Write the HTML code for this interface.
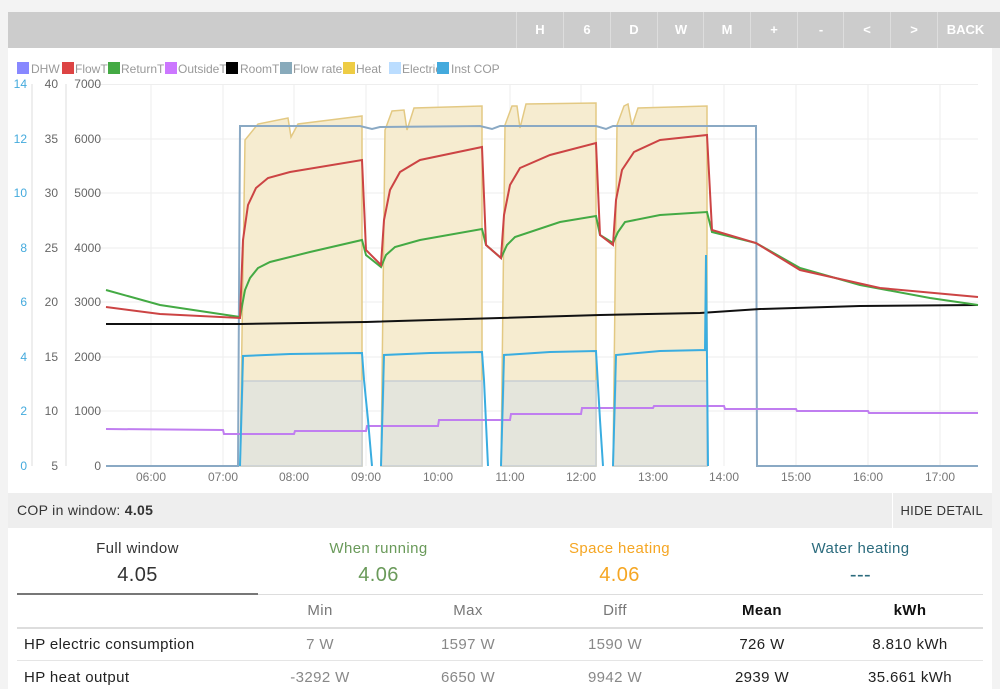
<!DOCTYPE html>
<html><head><meta charset="utf-8"><style>
body{margin:0;width:1000px;height:689px;background:#f3f3f3;font-family:"Liberation Sans",sans-serif;overflow:hidden;position:relative}
.hdr{position:absolute;left:8px;top:12px;width:992px;height:36px;background:#ccc}
.btn{position:absolute;top:0;height:36px;width:46px;border-left:1px solid #ddd;color:#fff;font-weight:bold;font-size:13px;line-height:36px;text-align:center}
.main{position:absolute;left:8px;top:48px;width:984px;height:641px;background:#fff}
.copbar{position:absolute;left:8px;top:493px;width:984px;height:35px;background:#eee;font-size:14px;color:#333;line-height:35px;letter-spacing:0.3px}
.t{position:absolute;font-size:15px;text-align:center;letter-spacing:0.4px}
</style></head><body>
<div class="hdr">
<div class="btn" style="left:508px">H</div><div class="btn" style="left:555px">6</div><div class="btn" style="left:602px">D</div><div class="btn" style="left:649px">W</div><div class="btn" style="left:695px">M</div><div class="btn" style="left:742px">+</div><div class="btn" style="left:789px">-</div><div class="btn" style="left:835px">&lt;</div><div class="btn" style="left:882px">&gt;</div><div class="btn" style="left:929px;width:55px">BACK</div>
</div>
<div class="main"></div>
<svg style="position:absolute;left:0;top:0" width="1000" height="490" font-family="Liberation Sans, sans-serif">
<g font-size="12" fill="#999">
<rect x="17" y="62" width="12" height="12" fill="#88f"/><text x="31" y="73">DHW</text>
<rect x="62" y="62" width="12" height="12" fill="#d44"/><text x="75" y="73">FlowT</text>
<rect x="108" y="62" width="12" height="12" fill="#4a4"/><text x="121" y="73">ReturnT</text>
<rect x="165" y="62" width="12" height="12" fill="#c7f"/><text x="178" y="73">OutsideT</text>
<rect x="226" y="62" width="12" height="12" fill="#000"/><text x="240" y="73">RoomT</text>
<rect x="280" y="62" width="12" height="12" fill="#8ab"/><text x="293" y="73">Flow rate</text>
<rect x="343" y="62" width="12" height="12" fill="#ec4"/><text x="356" y="73">Heat</text>
<rect x="389" y="62" width="12" height="12" fill="#bdf"/><text x="402" y="73">Electric</text>
<rect x="437" y="62" width="12" height="12" fill="#4ad"/><text x="451" y="73">Inst COP</text>
</g>
<g stroke="#eee" stroke-width="1">
<line x1="92" y1="84.5" x2="978" y2="84.5"/><line x1="92" y1="139" x2="978" y2="139"/><line x1="92" y1="193" x2="978" y2="193"/><line x1="92" y1="248" x2="978" y2="248"/><line x1="92" y1="302" x2="978" y2="302"/><line x1="92" y1="357" x2="978" y2="357"/><line x1="92" y1="411" x2="978" y2="411"/>
<line x1="151" y1="84" x2="151" y2="466"/><line x1="223" y1="84" x2="223" y2="466"/><line x1="294" y1="84" x2="294" y2="466"/><line x1="366" y1="84" x2="366" y2="466"/><line x1="438" y1="84" x2="438" y2="466"/><line x1="510" y1="84" x2="510" y2="466"/><line x1="581" y1="84" x2="581" y2="466"/><line x1="653" y1="84" x2="653" y2="466"/><line x1="724" y1="84" x2="724" y2="466"/><line x1="796" y1="84" x2="796" y2="466"/><line x1="868" y1="84" x2="868" y2="466"/><line x1="940" y1="84" x2="940" y2="466"/>
</g>
<line x1="32" y1="84" x2="32" y2="466" stroke="#ddd"/><line x1="66" y1="84" x2="66" y2="466" stroke="#ddd"/>
<g font-size="12" fill="#4ad" text-anchor="end"><text x="27" y="88">14</text><text x="27" y="143">12</text><text x="27" y="197">10</text><text x="27" y="252">8</text><text x="27" y="306">6</text><text x="27" y="361">4</text><text x="27" y="415">2</text><text x="27" y="470">0</text></g>
<g font-size="12" fill="#666" text-anchor="end"><text x="58" y="88">40</text><text x="58" y="143">35</text><text x="58" y="197">30</text><text x="58" y="252">25</text><text x="58" y="306">20</text><text x="58" y="361">15</text><text x="58" y="415">10</text><text x="58" y="470">5</text>
<text x="101" y="88">7000</text><text x="101" y="143">6000</text><text x="101" y="197">5000</text><text x="101" y="252">4000</text><text x="101" y="306">3000</text><text x="101" y="361">2000</text><text x="101" y="415">1000</text><text x="101" y="470">0</text></g>
<g font-size="12" fill="#777" text-anchor="middle"><text x="151" y="481">06:00</text><text x="223" y="481">07:00</text><text x="294" y="481">08:00</text><text x="366" y="481">09:00</text><text x="438" y="481">10:00</text><text x="510" y="481">11:00</text><text x="581" y="481">12:00</text><text x="653" y="481">13:00</text><text x="724" y="481">14:00</text><text x="796" y="481">15:00</text><text x="868" y="481">16:00</text><text x="940" y="481">17:00</text></g>
<g fill="#f6ecd0" stroke="#e3c983" stroke-width="1.5">
<path d="M240,466 L245,140 L258,124 L288,118 L291,137 L298,124 L362,116 L362,466Z"/>
<path d="M381,466 L385,130 L392,111 L404,110 L407,130 L414,108 L482,106 L482,466Z"/>
<path d="M501,466 L505,125 L512,106 L517,106 L520,128 L526,104 L596,103 L596,466Z"/>
<path d="M613,466 L617,125 L624,106 L628,104 L632,126 L638,108 L707,106 L707,466Z"/>
</g>
<g fill="#e4e5dc" stroke="#c8cfd3" stroke-width="1.5">
<path d="M240,466 L243,381 L362,381 L362,466Z"/><path d="M381,466 L384,381 L482,381 L482,466Z"/><path d="M501,466 L504,381 L596,381 L596,466Z"/><path d="M613,466 L616,381 L707,381 L707,466Z"/>
</g>
<path d="M106,466 L238,466 L240,126 L360,126 L372,129 L380,127 L480,126 L492,129 L500,126 L596,126 L606,129 L613,126 L756,126 L757,466 L978,466" fill="none" stroke="#8aa9c4" stroke-width="2"/>
<path d="M106,429 L223,430 L224,434 L294,434 L295,431 L366,431 L367,426 L438,426 L439,420 L510,420 L511,414 L581,414 L582,408 L653,408 L654,406 L724,406 L725,409 L796,409 L797,411 L868,411 L869,413 L978,413" fill="none" stroke="#c07ef0" stroke-width="2"/>
<path d="M106,324 L240,324 L366,322 L500,318 L600,315 L700,313 L760,309 L860,306 L978,305" fill="none" stroke="#111" stroke-width="2"/>
<path d="M106,290 L160,305 L240,317 L245,290 L250,278 L258,268 L270,262 L310,252 L362,240 L366,255 L381,267 L386,255 L395,247 L420,240 L482,229 L486,245 L501,258 L507,245 L515,237 L560,222 L596,216 L600,235 L613,243 L618,232 L625,222 L660,215 L707,212 L712,232 L756,243 L800,268 L860,285 L930,298 L978,305" fill="none" stroke="#4a4" stroke-width="2"/>
<path d="M106,307 L160,314 L240,318 L243,240 L248,205 L256,188 L268,178 L290,172 L362,160 L366,250 L381,265 L384,220 L390,190 L400,172 L420,160 L482,147 L486,245 L501,258 L504,215 L510,185 L520,168 L550,155 L596,143 L600,235 L613,245 L616,200 L622,170 L634,152 L660,140 L707,135 L712,230 L756,243 L800,270 L880,288 L978,297" fill="none" stroke="#c44" stroke-width="2"/>
<path d="M240,466 L243,356 L290,354 L362,353 L364,380 L368,420 L372,466 M381,466 L384,355 L430,353 L482,352 L484,380 L488,466 M501,466 L504,355 L550,352 L596,351 L600,420 L603,466 M613,466 L616,355 L660,351 L705,350 L706,255 L708,466" fill="none" stroke="#3aade0" stroke-width="2"/>
</svg>
<div class="copbar"><span style="margin-left:9px">COP in window: <b>4.05</b></span><span style="position:absolute;right:9px;font-size:13px">HIDE DETAIL</span><span style="position:absolute;left:884px;top:0;height:35px;border-left:1px solid #fff"></span></div>
<div class="t" style="left:17px;width:241px;top:540px;color:#333">Full window</div>
<div class="t" style="left:17px;width:241px;top:564px;color:#333;font-size:20px">4.05</div>
<div style="position:absolute;left:17px;width:241px;top:593px;height:2px;background:#777"></div>
<div class="t" style="left:258px;width:241px;top:540px;color:#6a9a5a">When running</div>
<div class="t" style="left:258px;width:241px;top:564px;color:#6a9a5a;font-size:20px">4.06</div>
<div class="t" style="left:499px;width:241px;top:540px;color:#f5a623">Space heating</div>
<div class="t" style="left:499px;width:241px;top:564px;color:#f5a623;font-size:20px">4.06</div>
<div class="t" style="left:740px;width:241px;top:540px;color:#2b6b7d">Water heating</div>
<div class="t" style="left:740px;width:241px;top:564px;color:#2b6b7d;font-size:20px">---</div>
<div style="position:absolute;left:258px;width:725px;top:594px;height:1px;background:#ddd"></div>
<div class="t" style="left:260px;width:120px;top:602px;color:#777">Min</div>
<div class="t" style="left:408px;width:120px;top:602px;color:#777">Max</div>
<div class="t" style="left:555px;width:120px;top:602px;color:#777">Diff</div>
<div class="t" style="left:702px;width:120px;top:602px;color:#111;font-weight:bold">Mean</div>
<div class="t" style="left:850px;width:120px;top:602px;color:#111;font-weight:bold">kWh</div>
<div style="position:absolute;left:17px;width:966px;top:627px;height:2px;background:#ddd"></div>
<div class="t" style="left:24px;top:636px;color:#222;text-align:left">HP electric consumption</div>
<div class="t" style="left:260px;width:120px;top:636px;color:#888">7 W</div>
<div class="t" style="left:408px;width:120px;top:636px;color:#888">1597 W</div>
<div class="t" style="left:555px;width:120px;top:636px;color:#888">1590 W</div>
<div class="t" style="left:702px;width:120px;top:636px;color:#222">726 W</div>
<div class="t" style="left:850px;width:120px;top:636px;color:#222">8.810 kWh</div>
<div style="position:absolute;left:17px;width:966px;top:660px;height:1px;background:#e5e5e5"></div>
<div class="t" style="left:24px;top:669px;color:#222;text-align:left">HP heat output</div>
<div class="t" style="left:260px;width:120px;top:669px;color:#888">-3292 W</div>
<div class="t" style="left:408px;width:120px;top:669px;color:#888">6650 W</div>
<div class="t" style="left:555px;width:120px;top:669px;color:#888">9942 W</div>
<div class="t" style="left:702px;width:120px;top:669px;color:#222">2939 W</div>
<div class="t" style="left:850px;width:120px;top:669px;color:#222">35.661 kWh</div>
</body></html>
